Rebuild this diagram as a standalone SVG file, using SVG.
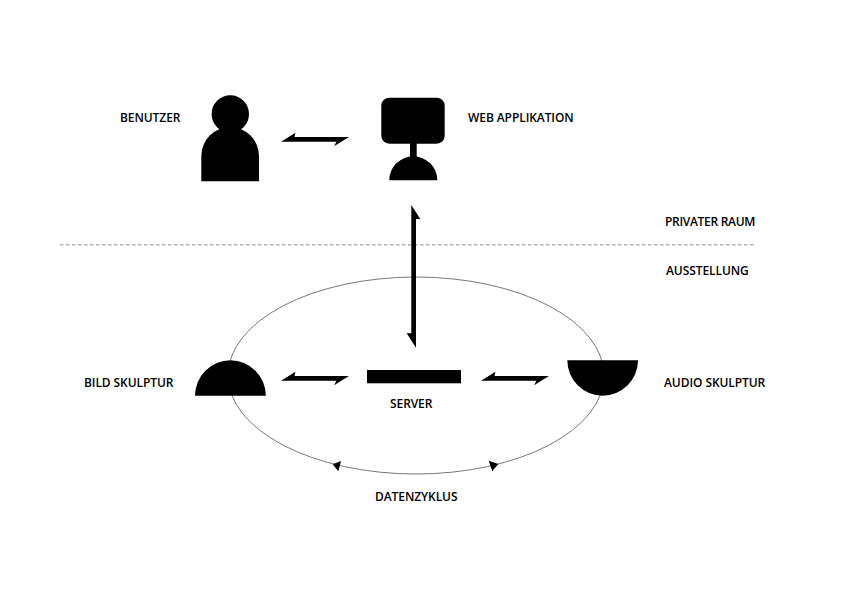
<svg xmlns="http://www.w3.org/2000/svg" width="842" height="596" viewBox="0 0 842 596">
<style>
.t{font-family:"Open Sans","Noto Sans","Liberation Sans",sans-serif;font-size:12px;font-weight:600;fill:#000;letter-spacing:-.08px}
.k{fill:#000}
</style>
<defs>
<polygon id="harrow" points="0,0 14.5,-9 13.5,-4.7 68,-4.7 53,4.5 55.5,0"/>
</defs>
<rect width="842" height="596" fill="#fff"/>
<g id="connectors">
<ellipse cx="416" cy="375.5" rx="188" ry="98.5" fill="none" stroke="#555" stroke-width=".8"/>
<line x1="60" y1="244.7" x2="754" y2="244.7" stroke="#b4b4b4" stroke-width="1.5" stroke-dasharray="3.5 2.5"/>
<use href="#harrow" x="281" y="141.8" class="k"/>
<use href="#harrow" x="281" y="380.7" class="k"/>
<use href="#harrow" x="481" y="380.7" class="k"/>
<polygon class="k" points="411.3,205 420.3,219 416,219 416,347.7 406.7,333.3 411.3,333.3"/>
<polygon class="k" points="332.7,464.3 341,461 338.3,471.3"/>
<polygon class="k" points="498.3,464 488.7,460.7 492.3,471.3"/>
</g>
<g id="benutzer">
<circle class="k" cx="230.3" cy="114" r="18.7"/>
<path class="k" d="M201.3 181.3V156A28.85 29 0 0 1 259 156V181.3Z"/>
<text class="t" x="120" y="122">BENUTZER</text>
</g>
<g id="web-applikation">
<rect class="k" x="381.3" y="97.7" width="63.4" height="46" rx="8"/>
<rect class="k" x="410" y="143" width="6.7" height="15"/>
<path class="k" d="M389.3 180.3A24 24 0 0 1 437.3 180.3Z"/>
<text class="t" x="468" y="122">WEB APPLIKATION</text>
</g>
<g id="zones">
<text class="t" x="665" y="226" style="letter-spacing:-.3px">PRIVATER RAUM</text>
<text class="t" x="666" y="275">AUSSTELLUNG</text>
</g>
<g id="bild-skulptur">
<path class="k" d="M195 395.7A35.4 35.4 0 0 1 265.8 395.7Z"/>
<text class="t" x="84" y="387">BILD SKULPTUR</text>
</g>
<g id="server">
<rect class="k" x="367" y="370" width="94" height="13.3"/>
<text class="t" x="390" y="408">SERVER</text>
</g>
<g id="audio-skulptur">
<path class="k" d="M567.3 360.3H638A35.35 35.35 0 0 1 567.3 360.3Z"/>
<text class="t" x="664" y="387">AUDIO SKULPTUR</text>
</g>
<g id="datenzyklus">
<text class="t" x="375" y="501">DATENZYKLUS</text>
</g>
</svg>
